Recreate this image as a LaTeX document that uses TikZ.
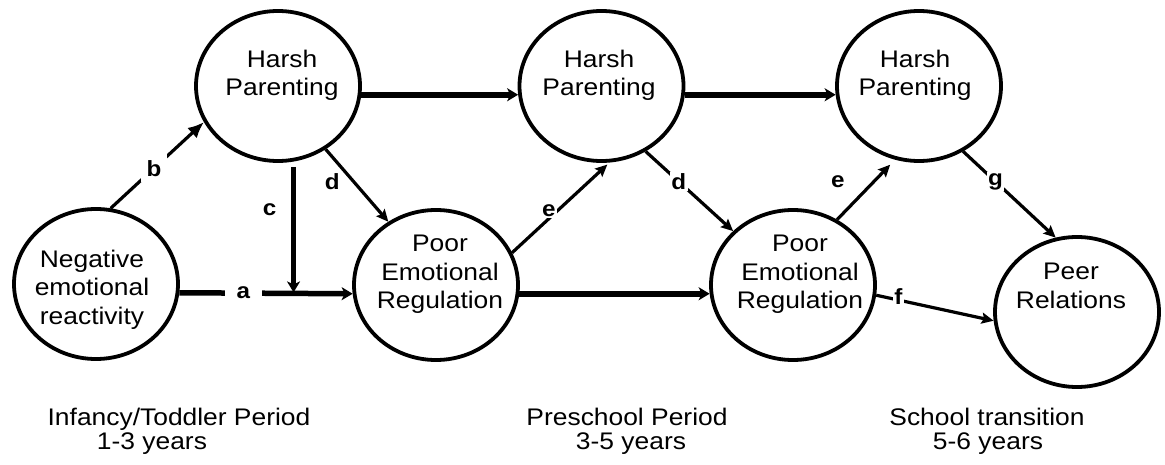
\documentclass[tikz,border=0pt]{standalone}
\usepackage{fontspec}
\setmainfont{Liberation Sans}[FakeStretch=1.1]
\usetikzlibrary{arrows.meta,shapes.geometric,calc}
\begin{document}
\begin{tikzpicture}[x=1pt,y=-1pt,
  circ/.style={ellipse, draw, line width=3.8pt, minimum width=164pt, minimum height=150pt, inner sep=0pt},
  txt/.style={align=center, font=\fontsize{24}{28.5}\selectfont, inner sep=0pt},
  thickarr/.style={line width=5.5pt, -{Stealth[length=11pt,width=13pt,inset=3pt]}},
  thinarr/.style={line width=3.2pt, -{Stealth[length=12pt,width=11pt,inset=2pt]}},
  bigarr/.style={line width=3.2pt, -{Latex[length=16pt,width=14pt]}},
  lab/.style={font=\bfseries\fontsize{22}{26}\selectfont, fill=white, inner sep=1.5pt},
]
\useasboundingbox (0,0) rectangle (1165,465);
\fill[white] (0,0) rectangle (1165,465);

% nodes
\node[circ] (h1) at (278,86) {};
\node[circ] (h2) at (601.5,86) {};
\node[circ] (h3) at (919,86) {};
\node[circ] (neg) at (96,284) {};
\node[circ] (per1) at (436,285) {};
\node[circ] (per2) at (793,285) {};
\node[circ] (peer) at (1077,312) {};

\node[txt] (th1) at (282,75.2) {Harsh\\Parenting};
\node[txt] (th2) at (599,75.2) {Harsh\\Parenting};
\node[txt] (th3) at (915,75.2) {Harsh\\Parenting};
\node[txt] (tneg) at (92,289.4) {Negative\\emotional\\reactivity};
\node[txt] (tp1) at (440,274.4) {Poor\\Emotional\\Regulation};
\node[txt] (tp2) at (800,274.4) {Poor\\Emotional\\Regulation};
\node[txt] (tpeer) at (1071,285.7) {Peer\\Relations};

% connectors
\draw[thickarr] (h1.-6.85) -- (h2.186.85);
\draw[thickarr] (h2.-6.85) -- (h3.186.85);
\path (neg.-6.85) -- coordinate[pos=0.659] (cend) (per1.186.16);
\draw[thickarr] (neg.-6.85) -- node[lab, pos=0.37, inner xsep=12pt]{a} (per1.186.16);
\draw[thickarr, shorten >=1pt] ([yshift=-4pt]cend |- h1.south) -- node[lab, fill=none, pos=0.34, left=13pt]{c} (cend);
\draw[thickarr] (per1.-6.16) -- (per2.186.16);

\draw[bigarr] (neg.79.5) -- node[lab, pos=0.465, inner sep=6pt]{b} (h1.206);
\draw[thinarr] (h1.-53) -- node[lab, fill=none, pos=0.45, left=11pt]{d} (per1.127);
\draw[thinarr, shorten >=3pt] (per1.23.5) -- node[lab, pos=0.47, xshift=-9pt]{e} (h2.-84);
\draw[thinarr] (h2.-56.6) -- node[lab, pos=0.38]{d} (per2.138.4);
\draw[thinarr, shorten >=7pt] (per2.56.3) -- node[lab, fill=none, pos=0.63, left=26pt]{e} (h3.252.4);
\draw[thinarr] (h3.-56.3) -- node[lab, pos=0.35]{g} (peer.106.35);
\draw[thinarr] (per2.-7.5) -- node[lab, pos=0.19, yshift=4pt]{f} (peer.186.9);

% period labels
\node[txt, anchor=base] (p1a) at (179,425) {Infancy/Toddler Period};
\node[txt, anchor=base] (p1b) at (152,449) {1-3 years};
\node[txt, anchor=base] (p2a) at (627,425) {Preschool Period};
\node[txt, anchor=base] (p2b) at (631,449) {3-5 years};
\node[txt, anchor=base] (p3a) at (987,425) {School transition};
\node[txt, anchor=base] (p3b) at (988,449) {5-6 years};
\end{tikzpicture}
\end{document}
